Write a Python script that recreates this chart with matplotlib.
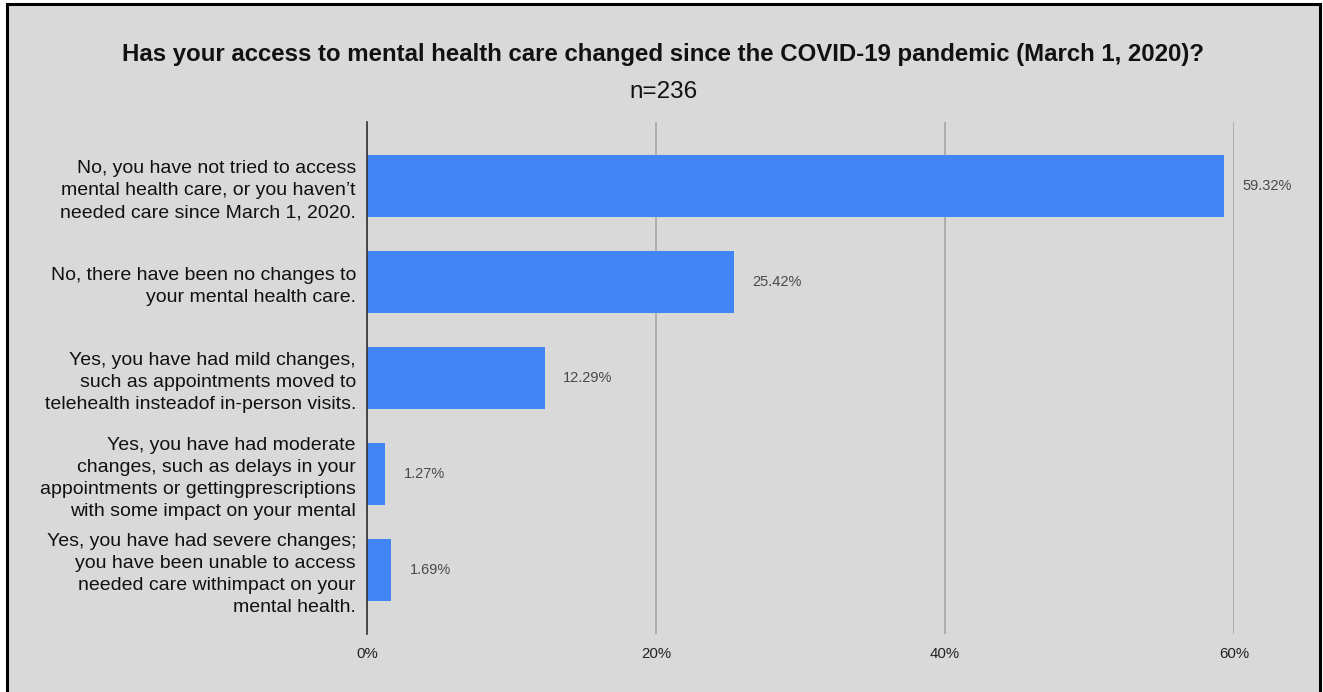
import matplotlib
matplotlib.use("Agg")
import matplotlib.pyplot as plt
from matplotlib.patches import Rectangle

categories = [
    "No, you have not tried to access\nmental health care, or you haven\u2019t\nneeded care since March 1, 2020.",
    "No, there have been no changes to\nyour mental health care.",
    "Yes, you have had mild changes,\nsuch as appointments moved to\ntelehealth insteadof in-person visits.",
    "Yes, you have had moderate\nchanges, such as delays in your\nappointments or gettingprescriptions\nwith some impact on your mental",
    "Yes, you have had severe changes;\nyou have been unable to access\nneeded care withimpact on your\nmental health.",
]
values = [59.32, 25.42, 12.29, 1.27, 1.69]
value_labels = ["59.32%", "25.42%", "12.29%", "1.27%", "1.69%"]
xticks = [0, 20, 40, 60]
xtick_labels = ["0%", "20%", "40%", "60%"]
title = "Has your access to mental health care changed since the COVID-19 pandemic (March 1, 2020)?"
subtitle = "n=236"

W, H = 1323, 692
fig = plt.figure(figsize=(W / 100, H / 100), dpi=100)
fig.patch.set_facecolor("white")

# framed grey background
bg = Rectangle((7 / W, -0.01), (1320 - 7) / W, (692 - 4) / H + 0.01,
               transform=fig.transFigure, facecolor="#d9d9d9",
               edgecolor="black", linewidth=2.2, zorder=-10)
fig.patches.append(bg)

ax = fig.add_axes([367 / W, 1 - 634 / H, (1234 - 367) / W, (634 - 122) / H])
ax.set_facecolor("none")
ax.set_zorder(1)

ypos = list(range(len(categories)))
ax.barh(ypos, values, height=0.64, color="#4285f4", zorder=3)
ax.set_ylim(len(categories) - 1 + 0.667, -0.667)
ax.set_xlim(0, 60)

for y, v, lab in zip(ypos, values, value_labels):
    ax.annotate(lab, (v, y), xytext=(13, 0), textcoords="offset points",
                va="center", ha="left", fontsize=10.5,
                family="Liberation Sans", color="#4a4a4a", annotation_clip=False)

ax.set_yticks(ypos)
ax.set_yticklabels(categories, fontsize=14, family="Liberation Sans",
                   color="#111111", linespacing=1.4)
ax.tick_params(axis="y", length=0, pad=8)
ax.set_xticks(xticks)
ax.set_xticklabels(xtick_labels, fontsize=10.8, family="Liberation Sans", color="#222222")
ax.tick_params(axis="x", length=0, pad=9)

ax.grid(axis="x", color="#a6a6a6", linewidth=1.2, zorder=1)
ax.set_axisbelow(True)
for s in ["top", "right", "bottom"]:
    ax.spines[s].set_visible(False)
ax.spines["left"].set_color("#333333")
ax.spines["left"].set_linewidth(1.2)
ax.spines["left"].set_zorder(4)

fig.text(0.5 * (7 + 1320) / W, 1 - 55 / H, title, ha="center", va="center",
         fontsize=17.3, fontweight="bold", family="Liberation Sans", color="#111111")
fig.text(0.5 * (7 + 1320) / W, 1 - 92 / H, subtitle, ha="center", va="center",
         fontsize=17.5, family="Liberation Sans", color="#111111")

fig.savefig("out.png", dpi=100, facecolor=fig.get_facecolor())
